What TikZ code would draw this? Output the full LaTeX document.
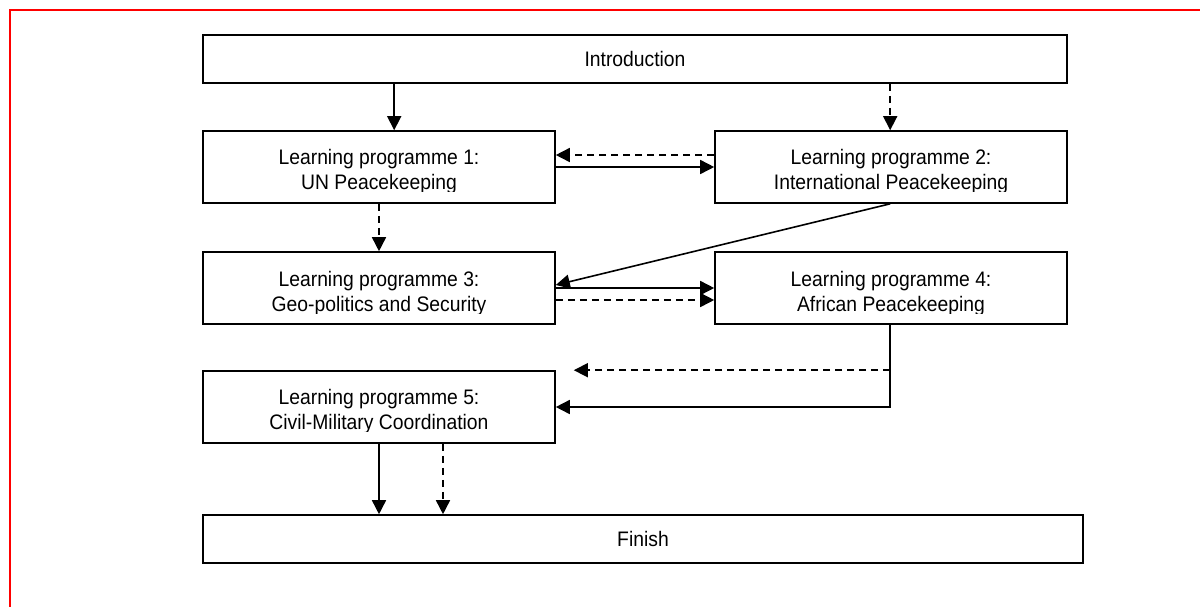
\documentclass[tikz,border=0pt]{standalone}
\usepackage{fontspec}
\setmainfont{Liberation Sans}[FakeStretch=0.92]
\usetikzlibrary{arrows.meta,calc}
% fixed strut so every two-line label has the same height and depth
\newcommand\lnstrut{\rule[-5pt]{0pt}{20pt}}
% two-line label of a box, cut off a little below its last baseline
\newcommand\clippedlabel[3]{%
  \begin{scope}
    \clip (#1.north west) rectangle ($(#1.east)+(0,#2+19.5)$);
    \node[lbl] (#1t) at ($(#1.center)+(0,#2)$) {#3};
  \end{scope}}
\begin{document}
\begin{tikzpicture}[x=1pt,y=-1pt,
  box/.style={draw, line width=1.6pt, inner sep=0pt, minimum width=352pt, minimum height=72pt},
  wide/.style={draw, line width=1.6pt, inner sep=0pt, minimum height=48pt,
    font=\fontsize{21}{25}\selectfont},
  lbl/.style={inner sep=0pt, align=center, font=\fontsize{21}{25}\selectfont},
  link/.style={line width=1.6pt, -{Triangle[length=14pt,width=14pt]}},
  dlink/.style={link, dash pattern=on 7pt off 5pt},
]
\useasboundingbox (0,0) rectangle (1200,606);
\clip (0,0) rectangle (1200,606);
% page frame
\draw[red, line width=2pt] (10,10) rectangle (1300,700);

% boxes
\node[wide, minimum width=864pt] (intro) at (635,59) {Introduction};
\node[box] (b1) at (379,167) {};
\node[box] (b2) at (891,167) {};
\node[box] (b3) at (379,288) {};
\node[box] (b4) at (891,288) {};
\node[box] (b5) at (379,407) {};
\node[wide, minimum width=880pt] (finish) at (643,539) {Finish};

\clippedlabel{b1}{5}{\lnstrut Learning programme 1:\\\lnstrut UN Peacekeeping}
\clippedlabel{b2}{5}{\lnstrut Learning programme 2:\\\lnstrut International Peacekeeping}
\clippedlabel{b3}{6}{\lnstrut Learning programme 3:\\\lnstrut Geo-politics and Security}
\clippedlabel{b4}{6}{\lnstrut Learning programme 4:\\\lnstrut African Peacekeeping}
\clippedlabel{b5}{4.5}{\lnstrut Learning programme 5:\\\lnstrut Civil-Military Coordination}

% anchor points for the off-centre connectors
\coordinate (c1) at ($(intro.south west)+(192,0)$);
\coordinate (c2) at ($(b2.north west)+(176,0)$);
\coordinate (c4) at ($(b4.south west)+(176,0)$);
\coordinate (c5) at ($(b5.south)+(64,0)$);
\coordinate (dend) at ($(b5.north east)+(18,0)$);

% connectors
\draw[link]  (c1) -- (c1 |- b1.north);
\draw[dlink] (c2 |- intro.south) -- (c2);
\draw[dlink] ($(b2.west)+(0,-12)$) -- ($(b1.east)+(0,-12)$);
\draw[link]  (b1.east) -- (b2.west);
\draw[dlink] (b1.south) -- (b3.north);
\draw[link]  ($(b2.south west)+(176,0)$) -- ($(b3.east)+(0,-3)$);
\draw[link]  (b3.east) -- (b4.west);
\draw[dlink] ($(b3.east)+(0,12)$) -- ($(b4.west)+(0,12)$);
\draw[link]  (c4) |- (b5.east);
\draw[dlink] (c4 |- dend) -- (dend);
\draw[link]  (b5.south) -- (b5.south |- finish.north);
\draw[dlink] (c5) -- (c5 |- finish.north);
\end{tikzpicture}
\end{document}
